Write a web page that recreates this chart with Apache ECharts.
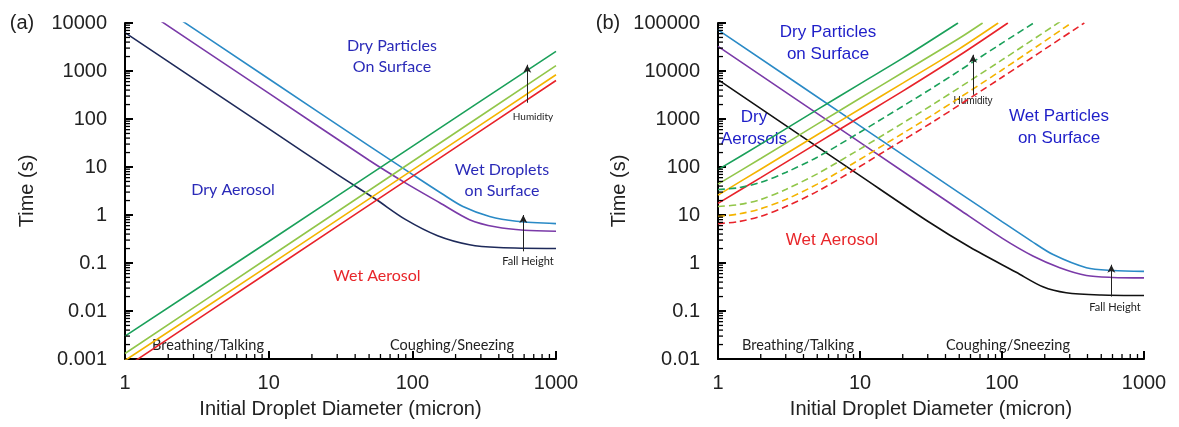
<!DOCTYPE html>
<html>
<head>
<meta charset="utf-8">
<script src="https://cdn.jsdelivr.net/npm/echarts@6/dist/echarts.min.js"></script>
<style>
  html, body { margin: 0; padding: 0; background: #fff; }
  #chart { width: 1179px; height: 427px; }
</style>
</head>
<body>
<div id="chart"></div>
<script>
// (a) settling / drying times, diameter (micron) vs time (s)
const aNavy   = [[1, 6300], [10, 63], [30, 7], [56, 2.1], [90, 0.8], [150, 0.37], [250, 0.24], [400, 0.21], [1000, 0.2]];
const aPurple = [[1, 34600], [10, 346], [50, 13.8], [90, 4.6], [155, 1.8], [250, 0.8], [385, 0.56], [600, 0.48], [1000, 0.46]];
const aBlue   = [[1, 69000], [10, 690], [50, 27.6], [100, 7], [160, 2.8], [225, 1.5], [345, 0.93], [530, 0.74], [1000, 0.66]];
const aGreen  = [[1, 0.003], [10, 0.28], [100, 27], [1000, 2570]];
const aLime   = [[1, 0.0013], [10, 0.13], [100, 13], [1000, 1290]];
const aOrange = [[1, 0.00093], [10, 0.088], [100, 8.6], [1000, 835]];
const aRed    = [[1, 0.00066], [10, 0.065], [100, 6.4], [1000, 635]];

// (b)
const bBlack  = [[1, 6600], [10, 66], [30, 7.4], [60, 2.1], [126, 0.64], [194, 0.32], [283, 0.24], [500, 0.215], [1000, 0.21]];
const bPurple = [[1, 32600], [10, 326], [50, 13], [100, 3.3], [165, 1.4], [255, 0.8], [393, 0.55], [600, 0.5], [1000, 0.49]];
const bBlue   = [[1, 72000], [10, 720], [50, 29], [100, 7.3], [160, 2.9], [229, 1.5], [393, 0.8], [600, 0.7], [1000, 0.67]];
const bGreen  = [[1, 88], [2, 300], [5, 1570], [10, 5400], [20, 18500], [49, 100000]];
const bLime   = [[1, 44], [2, 150], [5, 780], [10, 2700], [20, 9300], [50, 48000], [73, 100000]];
const bOrange = [[1, 26], [2, 90], [5, 470], [10, 1620], [20, 5600], [50, 29000], [94, 100000]];
const bRed    = [[1, 17.5], [2, 60], [5, 315], [10, 1100], [20, 3800], [50, 21000], [110, 100000]];
const bGreenD = [[1, 34], [1.4, 37], [2, 48], [3, 77], [5, 160], [9, 440], [15, 1100], [33, 4600], [100, 38000], [200, 140000]];
const bLimeD  = [[1, 15], [1.4, 16.5], [2, 21], [3, 34], [5, 72], [9, 197], [15, 490], [33, 2050], [100, 17000], [300, 145000]];
const bOrangeD= [[1, 9.3], [1.4, 10.5], [2, 13.5], [3, 21], [5, 44], [9, 120], [15, 300], [33, 1250], [100, 10500], [300, 95000]];
const bRedD   = [[1, 6.6], [1.4, 7.3], [2, 9.4], [3, 15], [5, 31], [9, 85], [15, 215], [33, 890], [100, 7400], [380, 100000]];

const C = {
  navy: '#1e2a5a', black: '#111111', purple: '#7a3aa8', blue: '#2a8ac6',
  green: '#1aa05a', lime: '#92c64a', orange: '#f4b400', red: '#e8232a'
};

const myChart = echarts.init(document.getElementById('chart'));

const fmt = v => String(+Number(v).toPrecision(6));

function xAx(grid) {
  return {
    type: 'log', logBase: 10, gridIndex: grid, min: 1, max: 1000, interval: 1,
    name: 'Initial Droplet Diameter (micron)', nameLocation: 'middle', nameGap: 40,
    nameTextStyle: { fontSize: 20, color: '#222', fontFamily: 'Liberation Sans' },
    axisLine: { lineStyle: { color: '#000', width: 2 } },
    axisTick: { inside: true, length: 8, lineStyle: { color: '#000', width: 2 } },
    splitLine: { show: false },
    axisLabel: { fontSize: 20, color: '#222', margin: 14, fontFamily: 'Liberation Sans', formatter: fmt }
  };
}
function yAx(grid, min, max) {
  return {
    type: 'log', logBase: 10, gridIndex: grid, min: min, max: max, interval: 1,
    name: 'Time (s)', nameLocation: 'middle', nameGap: 88, nameRotate: 90,
    nameTextStyle: { fontSize: 20, color: '#222', fontFamily: 'Liberation Sans' },
    axisLine: { lineStyle: { color: '#000', width: 2 } },
    axisTick: { inside: true, length: 8, lineStyle: { color: '#000', width: 2 } },
    splitLine: { show: false },
    axisLabel: { fontSize: 20, color: '#222', margin: 18, fontFamily: 'Liberation Sans', formatter: fmt }
  };
}

// log minor ticks 2..9 in each decade
function minorVals(lo, hi) {
  const out = [];
  for (let e = Math.round(Math.log10(lo)); e < Math.round(Math.log10(hi)); e++) {
    for (let k = 2; k <= 9; k++) out.push(+(k * Math.pow(10, e)).toPrecision(3));
  }
  return out;
}
function minorTicks(grid, xMin, xMax, yMin, yMax) {
  const xs = minorVals(xMin, xMax).map(v => [v, yMin, 0]);
  const ys = minorVals(yMin, yMax).map(v => [xMin, v, 1]);
  return {
    type: 'custom', xAxisIndex: grid, yAxisIndex: grid, silent: true, clip: false,
    data: xs.concat(ys), z: 5,
    renderItem: function (params, api) {
      const p = api.coord([api.value(0), api.value(1)]);
      const vert = api.value(2) === 0;
      return {
        type: 'line',
        shape: vert ? { x1: p[0], y1: p[1], x2: p[0], y2: p[1] - 5 }
                    : { x1: p[0], y1: p[1], x2: p[0] + 5, y2: p[1] },
        style: { stroke: '#000', lineWidth: 1.3 }
      };
    }
  };
}

function line(data, color, grid, dashed, extra) {
  return Object.assign({
    type: 'line', data: data, xAxisIndex: grid, yAxisIndex: grid,
    symbol: 'none', smooth: 0.3, clip: true, silent: true,
    lineStyle: { color: color, width: 1.6, type: dashed ? [7, 4] : 'solid' }
  }, extra || {});
}

function arrow(x, y0, y1) {
  return {
    silent: true, symbol: ['none', 'arrow'], symbolSize: [6, 8],
    lineStyle: { color: '#222', width: 1, type: 'solid' },
    label: { show: false },
    data: [[{ coord: [x, y0] }, { coord: [x, y1] }]]
  };
}

function txt(x, y, s, color, size, font) {
  return {
    type: 'text', x: x, y: y, silent: true,
    style: {
      text: s, fill: color, fontSize: size, fontFamily: font || 'Lato',
      align: 'center', verticalAlign: 'middle', lineHeight: size * 1.3
    }
  };
}

const calib = 'Lato', arial = 'Liberation Sans';
const blueA = '#2a2ab8', blueB = '#1e1ec8', redT = '#e8262a';

const option = {
  animation: false,
  backgroundColor: '#fff',
  grid: [
    { left: 125, top: 23, width: 431, height: 336 },
    { left: 718, top: 23, width: 426, height: 336 }
  ],
  xAxis: [xAx(0), xAx(1)],
  yAxis: [yAx(0, 0.001, 10000), yAx(1, 0.01, 100000)],
  series: [
    minorTicks(0, 1, 1000, 0.001, 10000),
    minorTicks(1, 1, 1000, 0.01, 100000),

    line(aNavy, C.navy, 0, false, { markLine: arrow(592, 0.175, 1.0) }),
    line(aPurple, C.purple, 0),
    line(aBlue, C.blue, 0),
    line(aGreen, C.green, 0),
    line(aLime, C.lime, 0),
    line(aOrange, C.orange, 0),
    line(aRed, C.red, 0, false, { markLine: arrow(631, 218, 1350) }),

    line(bBlack, C.black, 1, false, { markLine: arrow(589, 0.2, 0.92) }),
    line(bPurple, C.purple, 1),
    line(bBlue, C.blue, 1),
    line(bGreen, C.green, 1),
    line(bLime, C.lime, 1),
    line(bOrange, C.orange, 1),
    line(bRed, C.red, 1),
    line(bGreenD, C.green, 1, true),
    line(bLimeD, C.lime, 1, true),
    line(bOrangeD, C.orange, 1, true),
    line(bRedD, C.red, 1, true, { markLine: arrow(62.5, 3200, 21800) })
  ],
  graphic: [
    txt(22, 23, '(a)', '#222', 20, arial),
    txt(608, 23, '(b)', '#222', 20, arial),

    txt(392, 56, 'Dry Particles\nOn Surface', blueA, 16, calib),
    txt(233, 190, 'Dry Aerosol', blueA, 16, calib),
    txt(502, 180, 'Wet Droplets\non Surface', blueA, 16, calib),
    txt(377, 276, 'Wet Aerosol', redT, 16, calib),
    txt(533, 117, 'Humidity', '#222', 10, calib),
    txt(528, 261, 'Fall Height', '#222', 11, calib),
    txt(208, 345, 'Breathing/Talking', '#222', 14.5, calib),
    txt(452, 345, 'Coughing/Sneezing', '#222', 14.5, calib),

    txt(828, 43, 'Dry Particles\non Surface', blueB, 17, arial),
    txt(754, 128, 'Dry\nAerosols', blueB, 17, arial),
    txt(1059, 127, 'Wet Particles\non Surface', blueB, 17, arial),
    txt(832, 240, 'Wet Aerosol', redT, 17, arial),
    txt(973, 101, 'Humidity', '#222', 10, arial),
    txt(1115, 307, 'Fall Height', '#222', 11, calib),
    txt(798, 345, 'Breathing/Talking', '#222', 14.5, calib),
    txt(1008, 345, 'Coughing/Sneezing', '#222', 14.5, calib)
  ]
};

myChart.setOption(option);
</script>
</body>
</html>
